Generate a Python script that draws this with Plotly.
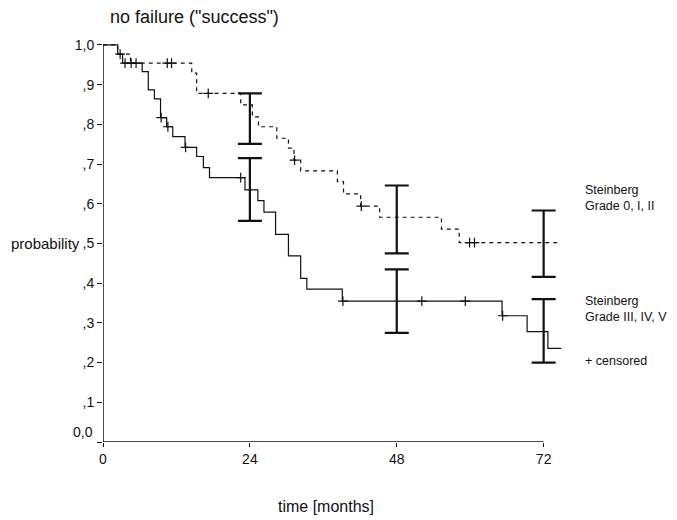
import plotly.graph_objects as go

# Kaplan-Meier curves (step times in months, survival after each step)
g1_name = "Steinberg<br>Grade 0, I, II"
g1_t = [0, 2.4, 4.5, 14.5, 15.3, 22.5, 24.4, 25.4, 28.4, 30.3, 31.2, 32.3, 38.3, 39.3, 42.1, 45.2, 55.3, 58.2, 74.6]
g1_s = [1.0, 0.977, 0.954, 0.929, 0.878, 0.849, 0.819, 0.794, 0.765, 0.740, 0.710, 0.683, 0.656, 0.625, 0.594, 0.566, 0.536, 0.502, 0.502]
g1_cens = [4.6, 5.4, 10.5, 11.2, 17.2, 31.3, 42.2, 59.9, 60.7]

g2_name = "Steinberg<br>Grade III, IV, V"
g2_t = [0, 2.4, 3.2, 6.4, 7.4, 8.4, 9.4, 10.4, 11.4, 13.4, 15.3, 16.4, 17.4, 23.2, 25.3, 26.3, 28.2, 30.3, 32.3, 33.3, 39.1, 65.2, 69.3, 72.7, 74.9]
g2_s = [1.0, 0.977, 0.954, 0.933, 0.887, 0.864, 0.817, 0.794, 0.769, 0.742, 0.719, 0.691, 0.666, 0.635, 0.608, 0.579, 0.523, 0.469, 0.412, 0.385, 0.355, 0.318, 0.278, 0.236, 0.236]
g2_cens = [2.8, 3.6, 9.5, 10.6, 13.5, 22.5, 39.2, 52.1, 59.2, 65.3]

# confidence intervals
ci_t = [24, 48, 72]
g1_lo = [0.751, 0.475, 0.416]
g1_hi = [0.878, 0.646, 0.583]
g2_lo = [0.557, 0.275, 0.200]
g2_hi = [0.715, 0.435, 0.360]

x_ticks = [0, 24, 48, 72]
y_ticks = [0, 0.1, 0.2, 0.3, 0.4, 0.5, 0.6, 0.7, 0.8, 0.9, 1.0]
y_ticktext = ["", ",1", ",2", ",3", ",4", ",5", ",6", ",7", ",8", ",9", "1,0"]
zero_label = "0,0"

FONT = "Liberation Sans Narrow, Arial Narrow, Liberation Sans, Arial, sans-serif"
INK = "#111111"


def surv_at(times, vals, t):
    v = vals[0]
    for ti, vi in zip(times, vals):
        if ti <= t:
            v = vi
    return v


fig = go.Figure()

fig.add_trace(go.Scatter(x=g1_t, y=g1_s, mode="lines", line_shape="hv",
                         line=dict(color=INK, width=1.2, dash="4px,4px"), showlegend=False))
fig.add_trace(go.Scatter(x=g2_t, y=g2_s, mode="lines", line_shape="hv",
                         line=dict(color=INK, width=1.2), showlegend=False))

fig.add_trace(go.Scatter(x=g1_cens, y=[surv_at(g1_t, g1_s, t) for t in g1_cens], mode="markers",
                         marker=dict(symbol="cross-thin", size=7, line=dict(color=INK, width=1.2)),
                         showlegend=False))
fig.add_trace(go.Scatter(x=g2_cens, y=[surv_at(g2_t, g2_s, t) for t in g2_cens], mode="markers",
                         marker=dict(symbol="cross-thin", size=7, line=dict(color=INK, width=1.2)),
                         showlegend=False))

for lo, hi in ((g1_lo, g1_hi), (g2_lo, g2_hi)):
    mid = [(a + b) / 2 for a, b in zip(lo, hi)]
    half = [(b - a) / 2 for a, b in zip(lo, hi)]
    fig.add_trace(go.Scatter(x=ci_t, y=mid, mode="markers", marker=dict(size=1, color="rgba(0,0,0,0)"),
                             error_y=dict(type="data", array=half, symmetric=True, color=INK,
                                          thickness=2.2, width=12),
                             showlegend=False))

# axis lines
fig.add_shape(type="line", xref="x", yref="y", x0=0, x1=72, y0=0, y1=0, line=dict(color=INK, width=1.5))
fig.add_shape(type="line", xref="x", yref="y", x0=0, x1=0, y0=0, y1=1.0, line=dict(color=INK, width=1.5))

fig.update_xaxes(range=[0, 75], tickvals=x_ticks, ticks="outside", ticklen=4, tickwidth=1, tickcolor=INK,
                 showline=False, showgrid=False, zeroline=False,
                 tickfont=dict(family=FONT, size=14, color=INK))
fig.update_yaxes(range=[0, 1.02], tickvals=y_ticks, ticktext=y_ticktext, ticks="outside", ticklen=5,
                 tickwidth=1, tickcolor=INK, showline=False, showgrid=False, zeroline=False,
                 tickfont=dict(family=FONT, size=14, color=INK))

ann_font = dict(family=FONT, size=12.5, color=INK)
fig.add_annotation(text=zero_label, xref="paper", yref="y", x=0, xshift=-8, y=0, yshift=10,
                   xanchor="right", yanchor="middle", showarrow=False, font=dict(family=FONT, size=14, color=INK))
fig.add_annotation(text='no failure ("success")', xref="paper", yref="paper", x=0.01, y=1.0, yshift=8,
                   xanchor="left", yanchor="bottom", showarrow=False, font=dict(family=FONT, size=18, color=INK))
fig.add_annotation(text="probability", xref="paper", yref="y", x=-0.045, y=0.5, xanchor="right",
                   yanchor="middle", showarrow=False, font=dict(family=FONT, size=15, color=INK))
fig.add_annotation(text="time [months]", xref="paper", yref="paper", x=0.486, y=-0.16, xanchor="center",
                   yanchor="middle", showarrow=False, font=dict(family=FONT, size=16, color=INK))
fig.add_annotation(text=g1_name, xref="paper", yref="y", x=1.045, y=0.615, xanchor="left", yanchor="middle",
                   align="left", showarrow=False, font=ann_font)
fig.add_annotation(text=g2_name, xref="paper", yref="y", x=1.045, y=0.335, xanchor="left", yanchor="middle",
                   align="left", showarrow=False, font=ann_font)
fig.add_annotation(text="+ censored", xref="paper", yref="y", x=1.045, y=0.205, xanchor="left", yanchor="middle",
                   align="left", showarrow=False, font=ann_font)

# page body has an 8px default margin, so margins are reduced by 8px on the left/top
fig.update_layout(width=677, height=520, margin=dict(l=95, r=123, t=29, b=86),
                  plot_bgcolor="white", paper_bgcolor="white")

fig.write_html("out.html")
